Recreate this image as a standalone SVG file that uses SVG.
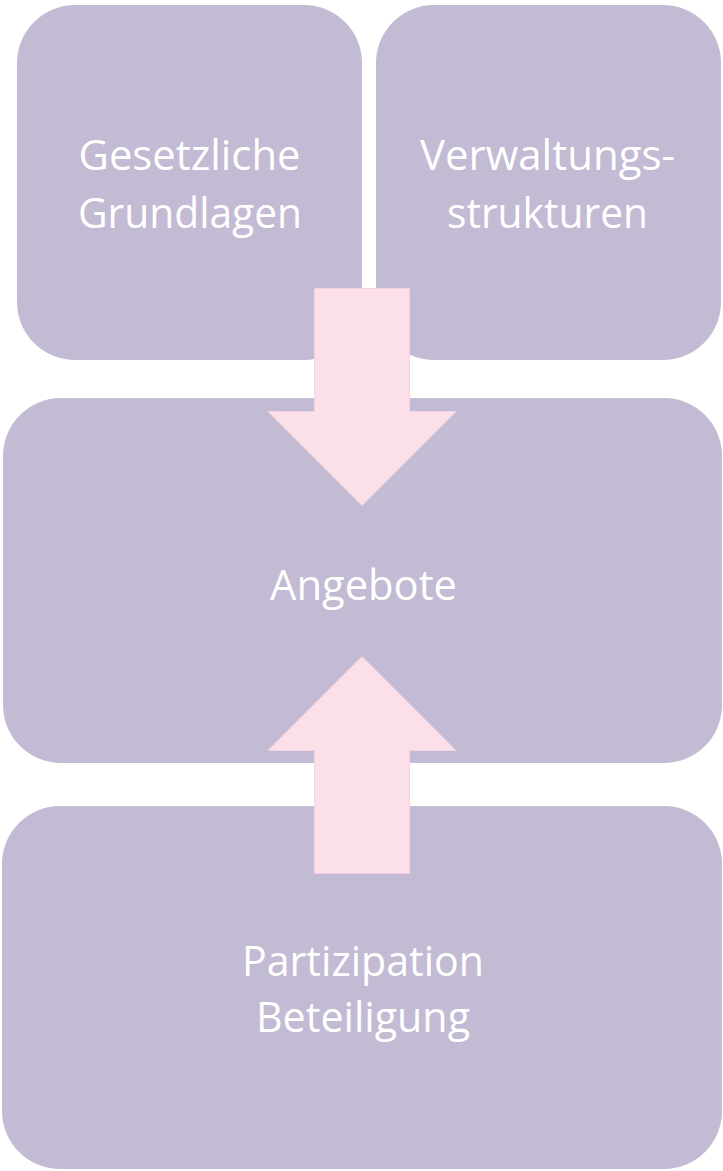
<svg xmlns="http://www.w3.org/2000/svg" width="723" height="1171" viewBox="0 0 723 1171">
  <style>
    .box { fill: #C3BAD3; }
    .label { fill: #FFFFFF; font-family: "Open Sans", "Noto Sans", "Liberation Sans", sans-serif; font-size: 42px; text-anchor: middle; }
    .arrow { fill: #FCE0E9; stroke: #F3D3E0; stroke-width: 1; }
  </style>
  <rect width="723" height="1171" fill="#FFFFFF"/>

  <g id="gesetzliche-grundlagen">
    <rect class="box" x="17" y="5" width="345" height="355" rx="58" ry="58"/>
    <text class="label" x="189.5" y="170" textLength="222" lengthAdjust="spacingAndGlyphs">Gesetzliche</text>
    <text class="label" x="190" y="228" textLength="224" lengthAdjust="spacingAndGlyphs">Grundlagen</text>
  </g>

  <g id="verwaltungsstrukturen">
    <rect class="box" x="376" y="5" width="345" height="355" rx="58" ry="58"/>
    <text class="label" x="547.5" y="170" textLength="255" lengthAdjust="spacingAndGlyphs">Verwaltungs-</text>
    <text class="label" x="547.5" y="228" textLength="201" lengthAdjust="spacingAndGlyphs">strukturen</text>
  </g>

  <g id="angebote">
    <rect class="box" x="3" y="398" width="719" height="365" rx="58" ry="58"/>
    <text class="label" x="363.5" y="600" textLength="187" lengthAdjust="spacingAndGlyphs">Angebote</text>
  </g>

  <g id="partizipation-beteiligung">
    <rect class="box" x="2" y="806" width="720" height="363" rx="58" ry="58"/>
    <text class="label" x="363" y="976" textLength="242" lengthAdjust="spacingAndGlyphs">Partizipation</text>
    <text class="label" x="363" y="1032" textLength="214" lengthAdjust="spacingAndGlyphs">Beteiligung</text>
  </g>

  <g id="connectors">
    <!-- block arrow from the two upper boxes down into Angebote -->
    <polygon class="arrow" points="314.5,288.5 409.5,288.5 409.5,411.5 456,411.5 362,505.5 268,411.5 314.5,411.5"/>
    <!-- block arrow from Partizipation up into Angebote -->
    <polygon class="arrow" points="314.5,873.5 409.5,873.5 409.5,750.5 456,750.5 362,656.5 268,750.5 314.5,750.5"/>
  </g>
</svg>
